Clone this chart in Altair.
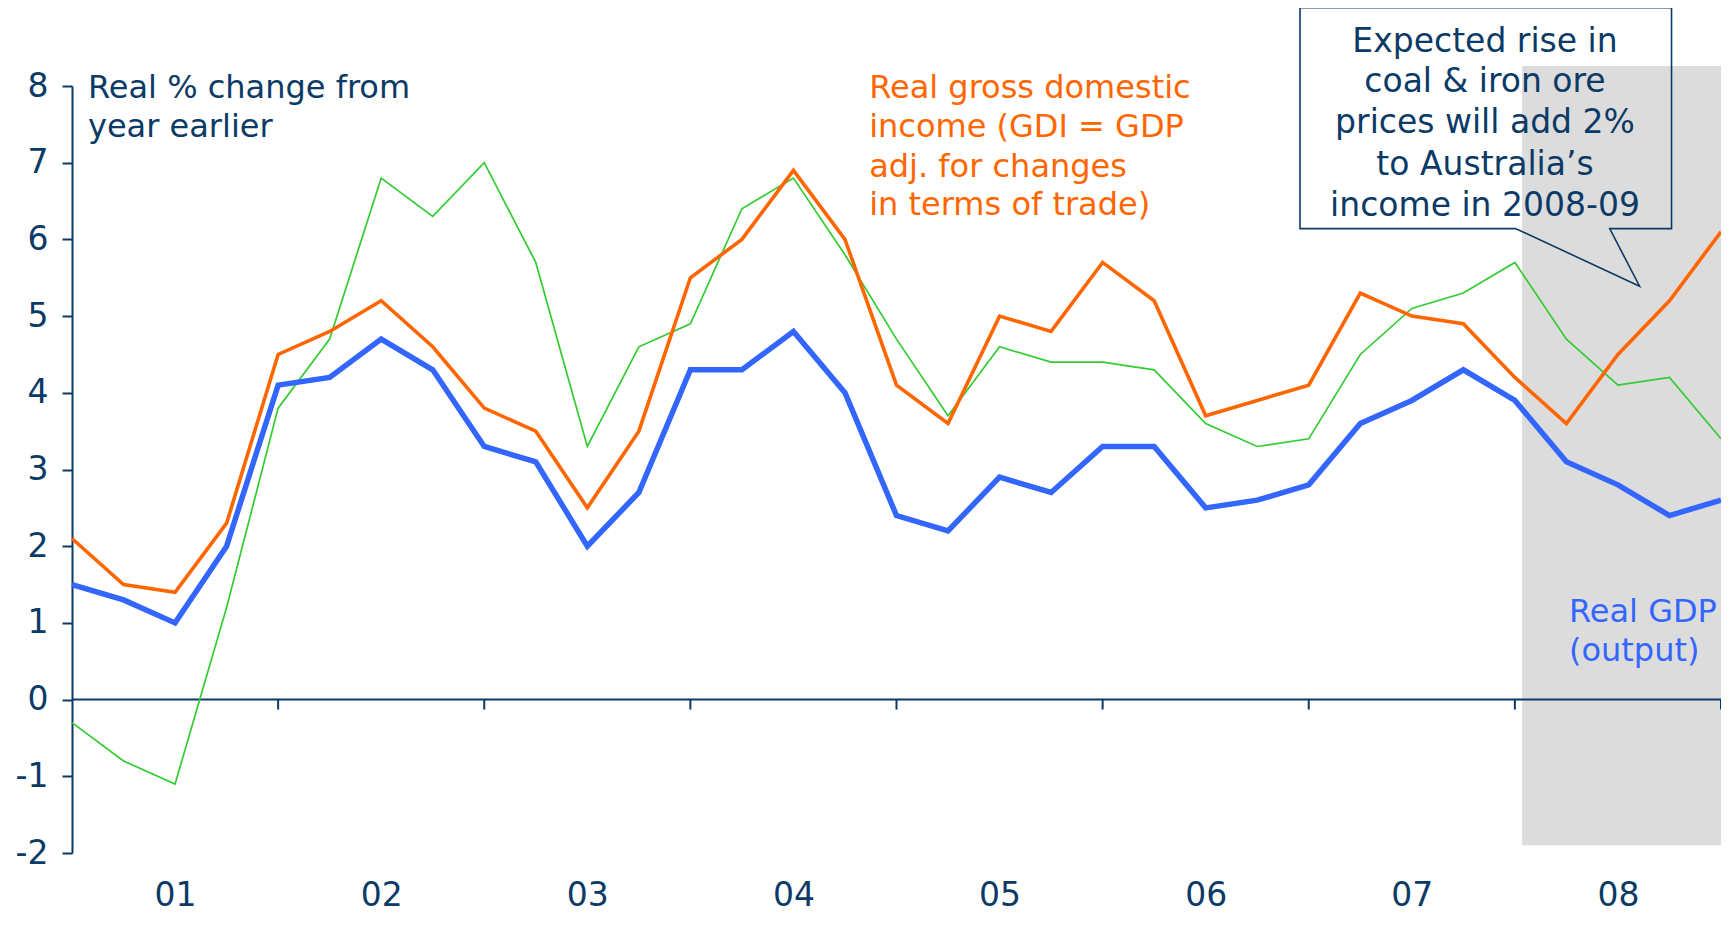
import altair as alt
import pandas as pd

# ---------------- data ----------------
quarter_index = list(range(33))
real_gdp = [1.5, 1.3, 1.0, 2.0, 4.1, 4.2, 4.7, 4.3, 3.3, 3.1, 2.0, 2.7,
            4.3, 4.3, 4.8, 4.0, 2.4, 2.2, 2.9, 2.7, 3.3, 3.3, 2.5, 2.6,
            2.8, 3.6, 3.9, 4.3, 3.9, 3.1, 2.8, 2.4, 2.6]
real_gdi = [2.1, 1.5, 1.4, 2.3, 4.5, 4.8, 5.2, 4.6, 3.8, 3.5, 2.5, 3.5,
            5.5, 6.0, 6.9, 6.0, 4.1, 3.6, 5.0, 4.8, 5.7, 5.2, 3.7, 3.9,
            4.1, 5.3, 5.0, 4.9, 4.2, 3.6, 4.5, 5.2, 6.1]
third_series = [-0.3, -0.8, -1.1, 1.2, 3.8, 4.7, 6.8, 6.3, 7.0, 5.7, 3.3, 4.6,
                4.9, 6.4, 6.8, 5.8, 4.7, 3.7, 4.6, 4.4, 4.4, 4.3, 3.6, 3.3,
                3.4, 4.5, 5.1, 5.3, 5.7, 4.7, 4.1, 4.2, 3.4]

year_label_positions = [2, 6, 10, 14, 18, 22, 26, 30]
year_tick_positions = [4, 8, 12, 16, 20, 24, 28, 32]
y_tick_values = [-2, -1, 0, 1, 2, 3, 4, 5, 6, 7, 8]

forecast_start = 28.14
forecast_end = 32
forecast_bottom = -1.9
forecast_top = 8.26

navy_lines = ["Real % change from", "year earlier"]
orange_lines = ["Real gross domestic", "income (GDI = GDP",
                "adj. for changes", "in terms of trade)"]
blue_lines = ["Real GDP", "(output)"]
callout_lines = ["Expected rise in", "coal & iron ore", "prices will add 2%",
                 "to Australia\u2019s", "income in 2008-09"]

navy_x, navy_y = [0.31, 0.31], [7.84, 7.335]
orange_x, orange_y = [15.47] * 4, [7.84, 7.335, 6.82, 6.32]
blue_x, blue_y = [29.05, 29.05], [1.013, 0.497]
callout_x, callout_y = [27.42] * 5, [8.445, 7.916, 7.387, 6.845, 6.303]

callout_path_x = [28.02, 23.83, 23.83, 31.04, 31.04, 29.84, 30.42, 28.02]
callout_path_y = [6.14, 6.14, 9.02, 9.02, 6.14, 6.14, 5.39, 6.14]

NAVY = "#0B3A66"
ORANGE = "#FF6600"
BLUE = "#3366FF"
GREEN = "#33CC33"
GREY = "#DCDCDC"
FONT = "DejaVu Sans"

# ---------------- frames ----------------
df_lines = pd.DataFrame({
    "q": quarter_index,
    "gdp": real_gdp,
    "gdi": real_gdi,
    "third": third_series,
})
df_shade = pd.DataFrame({"x": [forecast_start], "x2": [forecast_end],
                         "y": [forecast_bottom], "y2": [forecast_top]})
df_zero = pd.DataFrame({"x": [0], "x2": [32], "y": [0]})
df_ticks = pd.DataFrame({"x": year_tick_positions, "y": [0] * len(year_tick_positions),
                         "y2": [-0.13] * len(year_tick_positions)})
df_callout = pd.DataFrame({"x": callout_path_x, "y": callout_path_y,
                           "ord": list(range(len(callout_path_x)))})


def text_df(xs, ys, lines):
    return pd.DataFrame({"x": xs, "y": ys, "t": lines})


xscale = alt.Scale(domain=[0, 32], nice=False, zero=False)
yscale = alt.Scale(domain=[-2, 8], nice=False, zero=False)

x_axis = alt.Axis(values=year_label_positions,
                  labelExpr="'0' + (floor(datum.value / 4) + 1)",
                  domain=False, ticks=False, grid=False, title=None,
                  labelFont=FONT, labelFontSize=33, labelColor=NAVY,
                  labelPadding=26, labelFlush=False)
y_axis = alt.Axis(values=y_tick_values, labelExpr="datum.value + ''",
                  grid=False, title=None,
                  domain=True, domainColor=NAVY, domainWidth=2,
                  ticks=True, tickColor=NAVY, tickWidth=2, tickSize=10,
                  labelFont=FONT, labelFontSize=33, labelColor=NAVY,
                  labelPadding=14)

shade = alt.Chart(df_shade).mark_rect(color=GREY, clip=False).encode(
    x=alt.X("x:Q", scale=xscale, axis=x_axis),
    x2="x2:Q",
    y=alt.Y("y:Q", scale=yscale, axis=y_axis),
    y2="y2:Q",
)

zero_line = alt.Chart(df_zero).mark_rule(color=NAVY, strokeWidth=2).encode(
    x=alt.X("x:Q", scale=xscale), x2="x2:Q", y=alt.Y("y:Q", scale=yscale))

ticks = alt.Chart(df_ticks).mark_rule(color=NAVY, strokeWidth=2, clip=False).encode(
    x=alt.X("x:Q", scale=xscale), y=alt.Y("y:Q", scale=yscale), y2="y2:Q")


def series_line(field, color, width):
    return alt.Chart(df_lines).mark_line(color=color, strokeWidth=width,
                                         strokeJoin="miter", clip=False).encode(
        x=alt.X("q:Q", scale=xscale),
        y=alt.Y(f"{field}:Q", scale=yscale),
    )


green_line = series_line("third", GREEN, 1.7)
orange_line = series_line("gdi", ORANGE, 3.6)
blue_line = series_line("gdp", BLUE, 5.5)

callout_box = alt.Chart(df_callout).mark_line(color=NAVY, strokeWidth=1.6,
                                              clip=False).encode(
    x=alt.X("x:Q", scale=xscale), y=alt.Y("y:Q", scale=yscale), order="ord:Q")


def text_layer(df, color, align, size):
    return alt.Chart(df).mark_text(align=align, baseline="alphabetic", font=FONT,
                                   fontSize=size, color=color, clip=False).encode(
        x=alt.X("x:Q", scale=xscale), y=alt.Y("y:Q", scale=yscale), text="t:N")


navy_text = text_layer(text_df(navy_x, navy_y, navy_lines), NAVY, "left", 32)
orange_text = text_layer(text_df(orange_x, orange_y, orange_lines), ORANGE, "left", 32)
blue_text = text_layer(text_df(blue_x, blue_y, blue_lines), BLUE, "left", 32)
callout_text = text_layer(text_df(callout_x, callout_y, callout_lines), NAVY, "center", 33)

chart = alt.layer(
    shade, zero_line, ticks, green_line, orange_line, blue_line,
    callout_box, navy_text, orange_text, blue_text, callout_text,
).properties(
    width=1649, height=767,
    padding={"left": 64, "top": 78, "right": 0, "bottom": 60},
    autosize=alt.AutoSizeParams(type="none"),
    background="white",
).configure_view(stroke=None)

chart.save("out.html", embed_options={"renderer": "svg", "actions": False})
